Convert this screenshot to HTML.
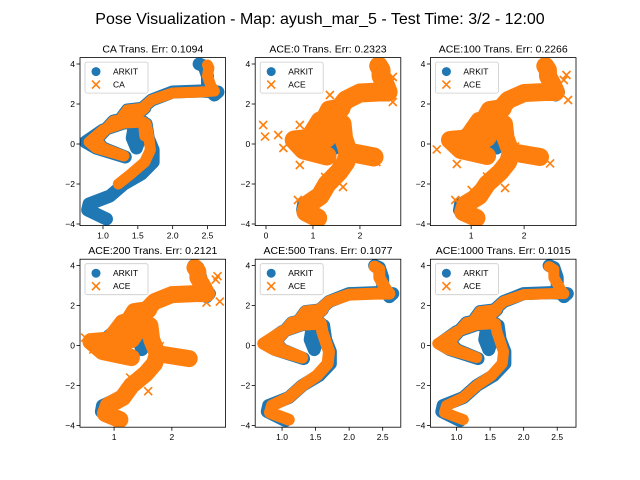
<!DOCTYPE html>
<html><head><meta charset="utf-8">
<style>
html,body{margin:0;padding:0;background:#fff;}
svg{display:block;font-family:"Liberation Sans","DejaVu Sans",sans-serif;}
</style></head>
<body>
<svg id="fig" width="640" height="480" viewBox="0 0 640 480">
<text x="320" y="24" text-anchor="middle" font-size="16" fill="#000">Pose Visualization - Map: ayush_mar_5 - Test Time: 3/2 - 12:00</text>
</svg>
<script>
// ARKIT ground-truth trajectory (x, y)
const arkitX = [1.05,0.78,0.8,1.1,1.3,1.55,1.72,1.72,1.65,1.62,1.45,1.42,1.48,1.55,1.58,1.3,1.0,0.75,0.9,1.32,1.0,0.9,1.15,1.45,1.6,1.35,1.2,1.5,1.7,2.0,2.4,2.65,2.6,2.5,2.5,2.45,2.38];
const arkitY = [-3.75,-3.3,-3.0,-2.6,-2.0,-1.5,-0.9,-0.3,0.3,1.0,0.9,0.3,-0.2,0.5,1.1,1.05,0.7,0.1,-0.2,-0.65,-0.2,0.2,1.15,1.35,1.8,1.7,1.0,1.6,2.2,2.6,2.65,2.6,2.45,2.8,3.4,3.9,4.0];
// CA estimate (starts later)
const caX = [1.22,1.4,1.6,1.68,1.66,1.62,1.6,1.58,1.3,1.0,0.8,0.9,1.3,1.0,0.9,1.15,1.45,1.6,1.35,1.2,1.5,1.7,2.0,2.4,2.6,2.55,2.5,2.52,2.5];
const caY = [-2.0,-1.5,-0.9,-0.3,0.3,1.0,0.4,1.1,1.05,0.7,0.1,-0.2,-0.6,-0.2,0.2,1.15,1.35,1.8,1.7,1.0,1.6,2.2,2.55,2.6,2.65,2.9,3.4,3.8,3.95];
// noisy ACE estimate (ACE:0/100/200), includes right branch
const aceNX = [1.1,0.85,0.9,1.15,1.3,1.55,1.7,1.75,2.3,1.75,1.65,1.62,1.45,1.3,1.0,0.6,0.8,1.3,1.0,0.9,1.15,1.45,1.6,1.35,1.2,1.5,1.7,2.0,2.4,2.6,2.55,2.45,2.45,2.4];
const aceNY = [-3.7,-3.4,-3.0,-2.6,-2.0,-1.4,-0.9,-0.4,-0.65,-0.4,0.3,1.0,0.9,0.3,0.3,0.2,-0.3,-0.6,-0.2,0.2,1.15,1.35,1.8,1.7,1.0,1.6,2.2,2.55,2.6,2.6,2.9,3.4,3.7,3.9];
// good ACE estimate (ACE:500/1000)
const aceGX = [1.1,0.82,0.85,1.1,1.3,1.52,1.68,1.7,1.64,1.6,1.58,1.3,1.0,0.72,0.88,1.3,1.0,0.9,1.15,1.45,1.6,1.35,1.2,1.5,1.7,2.0,2.4,2.6,2.55,2.45,2.45,2.38];
const aceGY = [-3.7,-3.35,-3.0,-2.6,-2.0,-1.5,-0.9,-0.3,0.3,0.7,1.1,1.05,0.7,0.1,-0.2,-0.6,-0.2,0.2,1.15,1.35,1.8,1.7,1.0,1.6,2.2,2.55,2.6,2.6,2.8,3.4,3.8,3.95];
// outliers per panel
const out0X = [-0.06,-0.02,0.26,0.37,0.72,0.72,1.36,1.74,2.35,2.7,2.64,2.7,1.64,0.68,1.26];
const out0Y = [0.95,0.37,0.45,-0.2,-1.05,0.95,2.45,-0.15,-0.9,3.35,3.05,2.1,-2.15,-2.8,-1.65];
const out1X = [0.35,0.73,1.3,0.7,1.83,2.3,2.49,2.8,2.83,1.64,1.01,2.75];
const out1Y = [-0.27,-1.0,-1.63,-2.8,-0.13,-0.63,-0.97,3.45,2.2,-2.2,-2.3,3.2];
const out3X = [2.79,2.76,2.83,2.25,1.79,1.28,1.59,0.64,0.5,2.6];
const out3Y = [3.47,3.3,2.2,-0.53,-0.03,-1.6,-2.28,-0.2,0.4,2.15];
const titles = ["CA Trans. Err: 0.1094","ACE:0 Trans. Err: 0.2323","ACE:100 Trans. Err: 0.2266","ACE:200 Trans. Err: 0.2121","ACE:500 Trans. Err: 0.1077","ACE:1000 Trans. Err: 0.1015"];
const xTicks = [[1.0,1.5,2.0,2.5],[0,1,2],[1,2],[1,2],[1.0,1.5,2.0,2.5],[1.0,1.5,2.0,2.5]];
const xTickLabels = [["1.0","1.5","2.0","2.5"],["0","1","2"],["1","2"],["1","2"],["1.0","1.5","2.0","2.5"],["1.0","1.5","2.0","2.5"]];
const yTicks = [-4,-2,0,2,4];
const yTickLabels = ["−4","−2","0","2","4"];

const NS="http://www.w3.org/2000/svg";
const svg=document.getElementById('fig');
const xlims=[[0.67,2.76],[-0.23,2.87],[0.23,2.98],[0.41,2.93],[0.6,2.77],[0.61,2.78]];
const ylim=[-4.08,4.32];
const lefts=[80,255.2,430.4], tops=[57.6,259.2], W=145.6, H=168;
const BLUE="#1f77b4", ORANGE="#ff7f0e";
function el(tag,attrs,parent){const e=document.createElementNS(NS,tag);for(const k in attrs)e.setAttribute(k,attrs[k]);(parent||svg).appendChild(e);return e;}
function pts(xs,ys,sx,sy){return xs.map((v,i)=>sx(v)+","+sy(ys[i])).join(" ");}
function xmark(g,cx,cy,r){
  const p=el('path',{d:`M${cx-r},${cy-r}L${cx+r},${cy+r}M${cx-r},${cy+r}L${cx+r},${cy-r}`,stroke:ORANGE,'stroke-width':1.6,fill:'none'},g);
  
  
}
const oranges=[[caX,caY,11],[aceNX,aceNY,19],[aceNX,aceNY,18],[aceNX,aceNY,17],[aceGX,aceGY,12],[aceGX,aceGY,11]];
const outs=[null,[out0X,out0Y],[out1X,out1Y],[out3X,out3Y],null,null];
for(let p=0;p<6;p++){
  const L=lefts[p%3], T=tops[Math.floor(p/3)];
  const xl=xlims[p];
  const sx=v=>L+(v-xl[0])/(xl[1]-xl[0])*W;
  const sy=v=>T+H-(v-ylim[0])/(ylim[1]-ylim[0])*H;
  const g=el('g',{});
  
  
  const cp=el('clipPath',{id:'cp'+p},g);
  el('rect',{x:L,y:T,width:W,height:H},cp);
  const pg=el('g',{'clip-path':`url(#cp${p})`},g);
  const a=el('polyline',{points:pts(arkitX,arkitY,sx,sy),fill:'none',stroke:BLUE,'stroke-width':13,'stroke-linejoin':'round','stroke-linecap':'round'},pg);
  
  
  const o=oranges[p];
  const b=el('polyline',{points:pts(o[0],o[1],sx,sy),fill:'none',stroke:ORANGE,'stroke-width':o[2],'stroke-linejoin':'round','stroke-linecap':'round'},pg);
  
  
  if(outs[p]){outs[p][0].forEach((v,i)=>xmark(pg,sx(v),sy(outs[p][1][i]),4));}
  const fr=el('rect',{x:L,y:T,width:W,height:H,fill:'none',stroke:'#000','stroke-width':0.8},g);
  
  
  const t=el('text',{x:L+W/2,y:T-5,'text-anchor':'middle','font-size':10.5},g);t.textContent=titles[p];
  
  
  xTicks[p].forEach((v,i)=>{
    el('line',{x1:sx(v),x2:sx(v),y1:T+H,y2:T+H+3.5,stroke:'#000','stroke-width':0.8},g);
    const tx=el('text',{x:sx(v),y:T+H+13,'text-anchor':'middle','font-size':8.5},g);tx.textContent=xTickLabels[p][i];
    
    
  });
  yTicks.forEach((v,i)=>{
    el('line',{x1:L-3.5,x2:L,y1:sy(v),y2:sy(v),stroke:'#000','stroke-width':0.8},g);
    const ty=el('text',{x:L-5,y:sy(v)+3,'text-anchor':'end','font-size':8.5},g);ty.textContent=yTickLabels[i];
    
    
  });
  const lg=el('g',{},g);
  
  
  el('rect',{x:L+5,y:T+4.5,width:63,height:31,rx:2,fill:'#fff','fill-opacity':0.8,stroke:'#ccc','stroke-width':0.8},lg);
  el('circle',{cx:L+16,cy:T+14,r:4.5,fill:BLUE},lg);
  const t1=el('text',{x:L+33,y:T+17,'font-size':8.5},lg);t1.textContent='ARKIT';
  
  
  const mx=L+16,my=T+27;
  el('path',{d:`M${mx-4},${my-4}L${mx+4},${my+4}M${mx-4},${my+4}L${mx+4},${my-4}`,stroke:ORANGE,'stroke-width':1.6},lg);
  const t2=el('text',{x:L+33,y:T+30,'font-size':8.5},lg);t2.textContent=p===0?'CA':'ACE';
  
  
}
</script>
</body></html>
